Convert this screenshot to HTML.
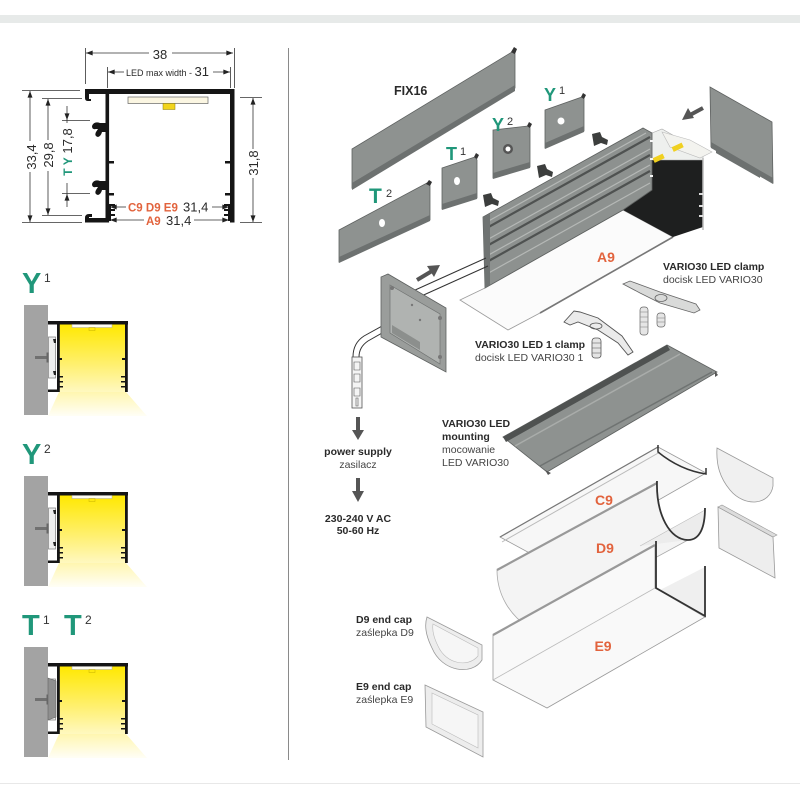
<!DOCTYPE html>
<html><head><meta charset="utf-8"><style>
html,body{margin:0;padding:0;background:#fff;}
svg{display:block;font-family:"Liberation Sans",sans-serif;}
</style></head><body>
<svg width="800" height="800" viewBox="0 0 800 800" xmlns="http://www.w3.org/2000/svg" xmlns:xlink="http://www.w3.org/1999/xlink">
<defs>
<linearGradient id="ly" x1="0" y1="0" x2="0" y2="1"><stop offset="0" stop-color="#ffe800"/><stop offset="0.6" stop-color="#fff070"/><stop offset="1" stop-color="#fff8c0"/></linearGradient>
<linearGradient id="cone" x1="0" y1="0" x2="0" y2="1"><stop offset="0" stop-color="#fff6b0"/><stop offset="1" stop-color="#fffef6"/></linearGradient>
<marker id="a" viewBox="0 0 8 6" refX="8" refY="3" markerWidth="7" markerHeight="5" orient="auto-start-reverse" markerUnits="userSpaceOnUse"><path d="M0,0 L8,3 L0,6z" fill="#222"/></marker>
<g id="ex">
<polygon points="59,392 126,392 147,416 48,416" fill="url(#cone)"/>
<rect x="24" y="305" width="24" height="110" fill="#a3a3a3"/>
<rect x="59" y="324" width="67" height="68" fill="url(#ly)"/>
<rect x="48" y="321" width="80" height="3.5" fill="#151515"/>
<rect x="57" y="321" width="2.8" height="71" fill="#151515"/>
<rect x="125" y="321" width="2.8" height="71" fill="#151515"/>
<rect x="48" y="389.5" width="11" height="2.5" fill="#151515"/>
<rect x="59" y="358" width="3" height="2" fill="#151515"/>
<rect x="122" y="358" width="3" height="2" fill="#151515"/>
<rect x="59" y="376" width="4" height="1.5" fill="#151515"/>
<rect x="59" y="381" width="4" height="1.5" fill="#151515"/>
<rect x="59" y="386" width="4" height="1.5" fill="#151515"/>
<rect x="121" y="376" width="4" height="1.5" fill="#151515"/>
<rect x="121" y="381" width="4" height="1.5" fill="#151515"/>
<rect x="121" y="386" width="4" height="1.5" fill="#151515"/>
<rect x="72" y="324.5" width="40" height="3" fill="#fffdf2" stroke="#aaa" stroke-width="0.5"/>
<rect x="89" y="327.5" width="6" height="3" fill="none" stroke="#c9b200" stroke-width="0.5"/>
<rect x="48.5" y="337" width="7" height="41" fill="#eeeeee" stroke="#888" stroke-width="0.8"/>
<path d="M53,339 l3,0 l0,4 l-2,0z M53,371 l3,0 l0,4 l-2,0z" fill="#222"/>
<rect x="35" y="356" width="13" height="3" fill="#707070"/>
<rect x="46.5" y="352.5" width="2" height="10" fill="#666"/>
</g>
</defs>

<!-- frame -->
<rect x="0" y="0" width="800" height="800" fill="#ffffff"/>
<rect x="0" y="15" width="800" height="8" fill="#e7eae9"/>
<line x1="288.5" y1="48" x2="288.5" y2="760" stroke="#8a8a8a" stroke-width="1"/>
<line x1="0" y1="783.5" x2="800" y2="783.5" stroke="#e8e8e8" stroke-width="1"/>

<!-- ========== Cross-section dimension drawing ========== -->
<g stroke="#333" stroke-width="0.8" fill="none">
<line x1="85.5" y1="48" x2="85.5" y2="84"/>
<line x1="234.5" y1="48" x2="234.5" y2="88"/>
<line x1="86" y1="53" x2="149" y2="53" marker-start="url(#a)"/>
<line x1="172" y1="53" x2="233" y2="53" marker-end="url(#a)"/>
<line x1="107.5" y1="67" x2="107.5" y2="88"/>
<line x1="230.5" y1="67" x2="230.5" y2="88"/>
<line x1="108" y1="72" x2="124" y2="72" marker-start="url(#a)"/>
<line x1="213" y1="72" x2="230" y2="72" marker-end="url(#a)"/>
<!-- 33,4 -->
<line x1="22" y1="90.5" x2="80" y2="90.5"/>
<line x1="22" y1="222.5" x2="82" y2="222.5"/>
<line x1="30" y1="91" x2="30" y2="141" marker-start="url(#a)"/>
<line x1="30" y1="172" x2="30" y2="222" marker-end="url(#a)"/>
<!-- 29,8 -->
<line x1="42" y1="98.5" x2="82" y2="98.5"/>
<line x1="42" y1="215.5" x2="82" y2="215.5"/>
<line x1="48" y1="99" x2="48" y2="140" marker-start="url(#a)"/>
<line x1="48" y1="171" x2="48" y2="215" marker-end="url(#a)"/>
<!-- 17,8 -->
<line x1="62" y1="120.5" x2="90" y2="120.5"/>
<line x1="62" y1="193.5" x2="90" y2="193.5"/>
<line x1="67" y1="106" x2="67" y2="120" marker-end="url(#a)"/>
<line x1="67" y1="207" x2="67" y2="194" marker-end="url(#a)"/>
<line x1="67" y1="120" x2="67" y2="123"/>
<line x1="67" y1="183" x2="67" y2="194"/>
<!-- 31,8 -->
<line x1="240" y1="97.5" x2="262" y2="97.5"/>
<line x1="240" y1="222.5" x2="262" y2="222.5"/>
<line x1="253" y1="98" x2="253" y2="149" marker-start="url(#a)"/>
<line x1="253" y1="178" x2="253" y2="222" marker-end="url(#a)"/>
<!-- 31,4 lines -->
<line x1="110" y1="207" x2="126" y2="207" marker-start="url(#a)"/>
<line x1="212" y1="207" x2="229" y2="207" marker-end="url(#a)"/>
<line x1="110" y1="220" x2="144" y2="220" marker-start="url(#a)"/>
<line x1="194" y1="220" x2="229" y2="220" marker-end="url(#a)"/>
</g>
<!-- profile shape -->
<g fill="#151515">
<rect x="85" y="89" width="149.5" height="5"/>
<path d="M85,89 l0,9 q0,3 3,3 l3,0 l0,-2 l-2,0 l0,-6z"/>
<rect x="105.5" y="89" width="3.6" height="133.5"/>
<rect x="230" y="89" width="4.5" height="133.5"/>
<rect x="85" y="218" width="21" height="4.5"/>
<path d="M85,222 l0,-4 q0,-4 4,-4 l3,0 l0,3 l-3,0 l0,5z"/>
<path d="M106,123 l-6,0 q-6,-2 -8,3 q0,4 4,3 l2,0 l-2,3 q-2,4 2,5 q3,-1 4,-5 l4,0z"/>
<path d="M106,181 l-6,0 q-6,-2 -8,3 q0,4 4,3 l2,0 l-2,3 q-2,4 2,5 q3,-1 4,-5 l4,0z"/>
<rect x="109" y="161" width="5" height="2.5"/>
<rect x="109" y="193" width="5" height="2.5"/>
<rect x="225" y="161" width="5" height="2.5"/>
<rect x="225" y="193" width="5" height="2.5"/>
<path d="M109,204 l6,0 l0,2 l-4,0 l0,3 l4,0 l0,2 l-4,0 l0,3 l4,0 l0,2 l-4,0 l0,5 l-2,0z"/>
<path d="M230,204 l-6,0 l0,2 l4,0 l0,3 l-4,0 l0,2 l4,0 l0,3 l-4,0 l0,2 l4,0 l0,5 l2,0z"/>
</g>
<rect x="128" y="97" width="80" height="6.5" fill="#fbf6e2" stroke="#666" stroke-width="0.7"/>
<rect x="163" y="103.5" width="12" height="6" fill="#f2d41a" stroke="#8a7a00" stroke-width="0.5"/>
<!-- dimension texts -->
<g fill="#2a2a2a" font-size="13">
<text x="160" y="59" text-anchor="middle">38</text>
<text x="126" y="76" font-size="9">LED max width - <tspan font-size="13">31</tspan></text>
<text transform="translate(36,157) rotate(-90)" text-anchor="middle">33,4</text>
<text transform="translate(53,155) rotate(-90)" text-anchor="middle">29,8</text>
<text transform="translate(72,152) rotate(-90)" text-anchor="middle"><tspan fill="#20977a" font-weight="bold" font-size="12">T Y</tspan> 17,8</text>
<text transform="translate(258,163) rotate(-90)" text-anchor="middle">31,8</text>
<text x="128" y="211.5" font-size="11.5" font-weight="bold" fill="#e2633d">C9 D9 E9</text>
<text x="183" y="211.5">31,4</text>
<text x="146" y="225" font-size="11.5" font-weight="bold" fill="#e2633d">A9</text>
<text x="166" y="225">31,4</text>
</g>

<!-- ========== Left mounting examples ========== -->
<g fill="#20977a" font-weight="bold">
<text x="22" y="293" font-size="29">Y</text>
<text x="22" y="464" font-size="29">Y</text>
<text x="22" y="635" font-size="29">T</text>
<text x="64" y="635" font-size="29">T</text>
</g>
<g fill="#333" font-size="12">
<text x="44" y="282">1</text>
<text x="44" y="453">2</text>
<text x="43" y="624">1</text>
<text x="85" y="624">2</text>
</g>
<use xlink:href="#ex" href="#ex"/>
<use xlink:href="#ex" href="#ex" transform="translate(0,171)"/>
<use xlink:href="#ex" href="#ex" transform="translate(0,342)"/>
<polygon points="48,678 56,681 56,717 48,720" fill="#8f8f8f" stroke="#666" stroke-width="0.6"/>

<!-- ========== Right exploded view ========== -->
<!-- FIX16 -->
<polygon points="352,149 512,52 515,54 515,88 352,188" fill="#8e9290" stroke="#5e6160" stroke-width="0.8"/>
<polygon points="352,183 515,85 515,91 352,190" fill="#6d7170"/>
<path d="M511,52 l3,-5 l3,2 l-2,5z" fill="#333"/>
<text x="394" y="95" font-size="12.5" font-weight="bold" fill="#2a2a2a">FIX16</text>

<!-- T2 plate -->
<polygon points="339,230 427,183 430,186 430,220 339,262" fill="#8e9290" stroke="#5e6160" stroke-width="0.8"/>
<polygon points="339,257 430,215 430,221 339,263" fill="#6d7170"/>
<path d="M426,184 l3,-4 l3,2 l-2,4z" fill="#333"/>
<ellipse cx="382" cy="223" rx="3" ry="4" fill="#fff"/>
<text x="369" y="203" font-size="21" font-weight="bold" fill="#20977a">T</text>
<text x="386" y="197" font-size="11" fill="#333">2</text>

<!-- T1 plate -->
<polygon points="442,168 475,157 477,160 477,198 442,209" fill="#8e9290" stroke="#5e6160" stroke-width="0.8"/>
<polygon points="442,204 477,193 477,199 442,210" fill="#6d7170"/>
<path d="M474,157 l2,-4 l3,2 l-2,4z" fill="#333"/>
<ellipse cx="457" cy="181" rx="3" ry="4" fill="#fff"/>
<text x="446" y="160" font-size="18" font-weight="bold" fill="#20977a">T</text>
<text x="460" y="155" font-size="11" fill="#333">1</text>

<!-- Y2 plate -->
<polygon points="493,130 528,126 530,128 530,167 493,178" fill="#8e9290" stroke="#5e6160" stroke-width="0.8"/>
<polygon points="493,173 530,162 530,168 493,179" fill="#6d7170"/>
<path d="M527,126 l2,-4 l3,2 l-2,4z" fill="#333"/>
<circle cx="508" cy="149" r="5" fill="#555"/>
<circle cx="508" cy="149" r="2.5" fill="#fff"/>
<text x="492" y="131" font-size="18" font-weight="bold" fill="#20977a">Y</text>
<text x="507" y="125" font-size="11" fill="#333">2</text>

<!-- Y1 plate -->
<polygon points="545,110 582,97 584,99 584,131 545,148" fill="#8e9290" stroke="#5e6160" stroke-width="0.8"/>
<polygon points="545,143 584,126 584,132 545,149" fill="#6d7170"/>
<path d="M581,97 l2,-4 l3,2 l-2,4z" fill="#333"/>
<circle cx="561" cy="121" r="3.5" fill="#fff"/>
<text x="544" y="101" font-size="18" font-weight="bold" fill="#20977a">Y</text>
<text x="559" y="94" font-size="11" fill="#333">1</text>

<!-- screws -->
<g fill="#3c3e3d">
<path d="M483,195 l8,-2 l2,5 l6,3 l-1,5 l-6,-2 l-7,3z"/>
<path d="M537,166 l8,-2 l2,5 l6,3 l-1,5 l-6,-2 l-7,3z"/>
<path d="M592,134 l8,-2 l2,5 l6,3 l-1,5 l-6,-2 l-7,3z"/>
</g>

<!-- Right end cap + arrow -->
<polygon points="710,87 772,122 773,183 711,147" fill="#8e9290" stroke="#5e6160" stroke-width="0.8"/>
<polygon points="711,142 773,178 773,184 711,148" fill="#6d7170"/>
<polygon points="716,148 760,173 760,178 716,153" fill="#6d7170"/>
<path d="M703,108 L690,115" stroke="#555" stroke-width="4"/>
<polygon points="682,120 688,108 694,118" fill="#555"/>

<!-- A9 main body -->
<polygon points="460,300 485,288 623,210 673,237 540,313 508,330" fill="#fbfbfb" stroke="#9c9c9c" stroke-width="0.8"/>
<line x1="540" y1="313" x2="673" y2="237" stroke="#777" stroke-width="1.6"/>
<polygon points="652,160 703,160 703,227 673,237 623,210 652,190" fill="#1e1f1f"/>
<polygon points="652,133 662,129 703,152 703,160 652,160" fill="#eef0ee" stroke="#aaa" stroke-width="0.6"/>
<polygon points="662,132 690,140 712,152 700,158 670,147" fill="#f3f3ef" stroke="#bbb" stroke-width="0.6"/>
<rect x="653" y="156" width="11" height="5" fill="#f0d020" transform="rotate(-25 658 158)"/>
<rect x="672" y="145" width="11" height="5" fill="#f0d020" transform="rotate(-25 677 147)"/>
<line x1="703" y1="158" x2="703" y2="230" stroke="#bbb" stroke-width="1.5"/>
<g fill="#ddd"><rect x="699" y="193" width="4" height="2"/><rect x="699" y="205" width="4" height="2"/><rect x="699" y="215" width="4" height="2"/></g>
<polygon points="483,217 643,128 652,133 652,190 623,210 485,288" fill="#8d918f" stroke="#5d605f" stroke-width="0.8"/>
<g stroke="#4f5251" stroke-width="2.2">
<line x1="485" y1="229" x2="650" y2="137"/>
<line x1="485" y1="247" x2="650" y2="155"/>
<line x1="485" y1="263" x2="650" y2="171"/>
</g>
<g stroke="#b5b8b6" stroke-width="1.2">
<line x1="485" y1="223" x2="646" y2="133"/>
<line x1="485" y1="241" x2="650" y2="149"/>
<line x1="485" y1="257" x2="650" y2="165"/>
<line x1="485" y1="275" x2="650" y2="183"/>
</g>
<polygon points="483,217 490,214 490,285 485,288" fill="#6f7372"/>
<g fill="#f5f5f5"><rect x="650" y="140" width="3" height="2"/><rect x="650" y="158" width="3" height="2"/><rect x="650" y="175" width="3" height="2"/></g>
<text x="606" y="262" font-size="14" font-weight="bold" fill="#e2633d" text-anchor="middle">A9</text>

<!-- cables -->
<g stroke="#333" stroke-width="1" fill="none">
<path d="M393,300 L486,258"/>
<path d="M397,307 L488,266"/>
<path d="M382,326 L364,336 Q353,343 353,357"/>
<path d="M382,333 L368,341 Q359,347 359,357"/>
</g>
<rect x="352" y="357" width="10" height="51" fill="#f4f4f4" stroke="#555" stroke-width="0.8"/>
<path d="M354,362 h6 v8 h-6z M354,374 h6 v8 h-6z M354,388 h6 v8 h-6z M356,398 h2 v8 h-2z" fill="none" stroke="#555" stroke-width="0.6"/>

<!-- connector end cap -->
<polygon points="381,277 388,274 446,308 446,372 381,337" fill="#9a9d9b" stroke="#5e6160" stroke-width="0.8"/>
<polygon points="390,285 440,314 440,364 390,333" fill="#b0b3b1" stroke="#707372" stroke-width="0.7"/>
<polygon points="392,325 420,342 420,350 392,333" fill="#8c8f8d"/>
<g fill="#777"><circle cx="392" cy="288" r="2"/><circle cx="440" cy="318" r="2"/><circle cx="440" cy="357" r="2"/><circle cx="420" cy="320" r="1.2"/><circle cx="412" cy="305" r="1.2"/></g>
<path d="M417,280 L432,271" stroke="#555" stroke-width="4"/>
<polygon points="440,265 427,266 434,277" fill="#555"/>

<!-- power supply -->
<line x1="358" y1="417" x2="358" y2="431" stroke="#555" stroke-width="4"/>
<polygon points="352,430 364,430 358,440" fill="#555"/>
<text x="358" y="455" font-size="10.5" font-weight="bold" fill="#2a2a2a" text-anchor="middle">power supply</text>
<text x="358" y="468" font-size="10.5" fill="#444" text-anchor="middle">zasilacz</text>
<line x1="358" y1="478" x2="358" y2="492" stroke="#555" stroke-width="4"/>
<polygon points="352,491 364,491 358,502" fill="#555"/>
<text x="358" y="522" font-size="10.5" font-weight="bold" fill="#2a2a2a" text-anchor="middle">230-240 V AC</text>
<text x="358" y="534" font-size="10.5" font-weight="bold" fill="#2a2a2a" text-anchor="middle">50-60 Hz</text>

<!-- VARIO30 LED clamp -->
<text x="663" y="270" font-size="10.5" font-weight="bold" fill="#2a2a2a">VARIO30 LED clamp</text>
<text x="663" y="283" font-size="10.5" fill="#444">docisk LED VARIO30</text>
<path d="M623,284 L630,281 L660,292 L696,304 L700,310 L694,313 L660,303 L640,293 Z" fill="#d9dad9" stroke="#666" stroke-width="0.8"/>
<ellipse cx="661" cy="298" rx="6" ry="3.5" fill="none" stroke="#666" stroke-width="0.8"/>
<g fill="#e5e5e5" stroke="#666" stroke-width="0.7">
<rect x="640" y="307" width="8" height="28" rx="3"/>
<rect x="657" y="313" width="8" height="14" rx="3"/>
</g>
<g stroke="#888" stroke-width="0.6"><line x1="640" y1="312" x2="648" y2="312"/><line x1="640" y1="317" x2="648" y2="317"/><line x1="640" y1="322" x2="648" y2="322"/><line x1="640" y1="327" x2="648" y2="327"/><line x1="657" y1="318" x2="665" y2="318"/><line x1="657" y1="322" x2="665" y2="322"/></g>

<!-- VARIO30 LED 1 clamp -->
<path d="M564,322 L574,311 L580,312 L598,318 L622,336 L633,352 L628,355 L618,343 L598,330 L578,322 L570,325 Z" fill="#ebebeb" stroke="#555" stroke-width="0.9"/>
<ellipse cx="596" cy="326" rx="6" ry="3" fill="none" stroke="#555" stroke-width="0.8"/>
<rect x="592" y="338" width="9" height="20" rx="3" fill="#e5e5e5" stroke="#555" stroke-width="0.8"/>
<g stroke="#666" stroke-width="0.6"><line x1="592" y1="343" x2="601" y2="343"/><line x1="592" y1="348" x2="601" y2="348"/><line x1="592" y1="353" x2="601" y2="353"/></g>
<text x="475" y="348" font-size="10.5" font-weight="bold" fill="#2a2a2a">VARIO30 LED 1 clamp</text>
<text x="475" y="361" font-size="10.5" fill="#444">docisk LED VARIO30 1</text>

<!-- VARIO30 LED mounting -->
<polygon points="503,437 667,345 717,372 547,472" fill="#8e9290" stroke="#5e6160" stroke-width="0.8"/>
<polygon points="503,437 667,345 670,350 506,442" fill="#4f5251"/>
<line x1="515" y1="446" x2="680" y2="354" stroke="#a9acaa" stroke-width="1.5"/>
<line x1="540" y1="466" x2="712" y2="372" stroke="#6f7372" stroke-width="1.5"/>
<path d="M545,470 l3,5 l3,-2 z M715,371 l3,4 l-3,2z" fill="#555"/>
<g font-size="10.5" fill="#2a2a2a">
<text x="442" y="427" font-weight="bold">VARIO30 LED</text>
<text x="442" y="440" font-weight="bold">mounting</text>
<text x="442" y="453" fill="#444">mocowanie</text>
<text x="442" y="466" fill="#444">LED VARIO30</text>
</g>

<!-- C9 -->
<polygon points="500,537 658,447 706,473 548,563" fill="#f7f7f7" stroke="#9a9a9a" stroke-width="0.8"/>
<line x1="500" y1="537" x2="658" y2="447" stroke="#777" stroke-width="1.2"/>
<line x1="502" y1="542" x2="660" y2="452" stroke="#bbb" stroke-width="1"/>
<path d="M658,445 L658,452 Q680,470 706,474 L706,468" fill="none" stroke="#333" stroke-width="1.5"/>
<text x="604" y="505" font-size="14" font-weight="bold" fill="#e2633d" text-anchor="middle">C9</text>

<!-- D9 -->
<path d="M497,570 L657,483 C656,515 670,540 688,540 L528,627 C510,615 497,595 497,570 Z" fill="#f4f4f4" stroke="#aaa" stroke-width="0.8"/>
<path d="M688,540 C700,540 705,527 705,510 L640,546" fill="#ececec" stroke="#bbb" stroke-width="0.6"/>
<line x1="497" y1="570" x2="657" y2="483" stroke="#999" stroke-width="2.2"/>
<path d="M657,481 C656,515 670,540 688,540 C700,540 705,527 705,508" fill="none" stroke="#333" stroke-width="1.8"/>
<text x="605" y="553" font-size="14" font-weight="bold" fill="#e2633d" text-anchor="middle">D9</text>

<!-- E9 -->
<polygon points="493,635 655,545 655,588 705,617 547,708 493,680" fill="#f9f9f9" stroke="#9a9a9a" stroke-width="0.8"/>
<polygon points="655,588 705,617 705,567 660,590" fill="#efefef"/>
<line x1="493" y1="635" x2="655" y2="545" stroke="#999" stroke-width="2.2"/>
<line x1="493" y1="680" x2="655" y2="588" stroke="#bbb" stroke-width="0.8"/>
<path d="M656,541 L656,588 L705,616 L705,566" fill="none" stroke="#333" stroke-width="1.8"/>
<text x="603" y="651" font-size="14" font-weight="bold" fill="#e2633d" text-anchor="middle">E9</text>

<!-- right end caps -->
<path d="M717,448 L773,478 L773,486 C770,505 745,508 730,490 C720,478 716,465 717,448 Z" fill="#f0f0f0" stroke="#999" stroke-width="0.8"/>
<polygon points="718,507 773,537 775,578 719,548" fill="#eeeeee" stroke="#999" stroke-width="0.8"/>
<polygon points="718,507 722,505 777,535 773,537" fill="#dcdcdc" stroke="#999" stroke-width="0.6"/>

<!-- left end caps -->
<text x="356" y="623" font-size="10.5" font-weight="bold" fill="#2a2a2a">D9 end cap</text>
<text x="356" y="636" font-size="10.5" fill="#444">zaślepka D9</text>
<path d="M427,617 L482,645 L482,660 C472,676 442,672 432,648 C426,636 424,626 427,617 Z" fill="#ededed" stroke="#999" stroke-width="0.8"/>
<path d="M433,624 L478,648 L478,656 C468,668 446,664 438,646 C434,638 432,630 433,624 Z" fill="#f6f6f6" stroke="#bbb" stroke-width="0.6"/>
<text x="356" y="690" font-size="10.5" font-weight="bold" fill="#2a2a2a">E9 end cap</text>
<text x="356" y="703" font-size="10.5" fill="#444">zaślepka E9</text>
<polygon points="425,685 483,712 483,757 426,727" fill="#ededed" stroke="#999" stroke-width="0.8"/>
<polygon points="432,693 478,715 478,748 432,724" fill="#f6f6f6" stroke="#bbb" stroke-width="0.6"/>
</svg>
</body></html>
